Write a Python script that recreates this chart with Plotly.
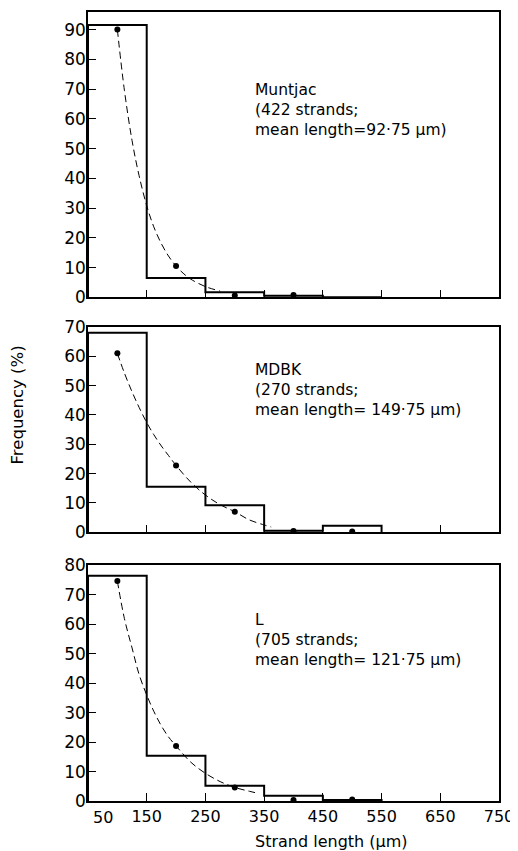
import plotly.graph_objects as go

# ---- data ----
bin_edges = [50, 150, 250, 350, 450, 550]
muntjac_freq = [91.5, 6.5, 1.7, 0.5, 0.0]
mdbk_freq = [68.0, 15.5, 9.2, 0.5, 2.2]
l_freq = [76.5, 15.4, 5.2, 1.8, 0.3]

muntjac_pts_x = [100, 200, 300, 400]
muntjac_pts_y = [90.0, 10.5, 0.6, 0.8]
mdbk_pts_x = [100, 200, 300, 400, 500]
mdbk_pts_y = [61.0, 22.8, 7.0, 0.4, 0.3]
l_pts_x = [100, 200, 300, 400, 500]
l_pts_y = [74.7, 18.7, 4.6, 0.3, 0.5]

muntjac_curve_x = [100, 112, 125, 137, 150, 162, 175, 187, 200, 212, 225, 250, 275]
muntjac_curve_y = [90.0, 69.6, 52.7, 40.9, 30.8, 23.7, 18.0, 13.9, 10.5, 8.1, 6.1, 3.6, 2.1]
mdbk_curve_x = [100, 112, 125, 137, 150, 162, 175, 187, 200, 225, 250, 275, 300, 325, 350, 362]
mdbk_curve_y = [61.0, 54.3, 47.9, 42.6, 37.4, 33.3, 29.4, 26.2, 22.8, 17.1, 12.7, 9.4, 7.0, 4.2, 2.5, 1.8]
l_curve_x = [100, 112, 125, 137, 150, 162, 175, 187, 200, 225, 250, 275, 300, 325, 340]
l_curve_y = [74.7, 62.0, 52.0, 43.0, 36.0, 30.5, 25.5, 21.8, 18.7, 13.2, 9.4, 6.6, 4.6, 3.3, 2.6]

x_ticks = [50, 150, 250, 350, 450, 550, 650, 750]
x_tick_labels = ["", "150", "250", "350", "450", "550", "650", "750"]  # "50" drawn offset, as in the figure

panels = [
    dict(freq=muntjac_freq, px=muntjac_pts_x, py=muntjac_pts_y,
         cx=muntjac_curve_x, cy=muntjac_curve_y, ymax=95.9, yticks=list(range(0, 100, 10)),
         domain=[0.6384, 1.0],
         label="Muntjac<br>(422 strands;<br>mean length=92·75 μm)", ly=0.8763),
    dict(freq=mdbk_freq, px=mdbk_pts_x, py=mdbk_pts_y,
         cx=mdbk_curve_x, cy=mdbk_curve_y, ymax=70, yticks=list(range(0, 80, 10)),
         domain=[0.3406, 0.6008],
         label="MDBK<br>(270 strands;<br>mean length= 149·75 μm)", ly=0.5209),
    dict(freq=l_freq, px=l_pts_x, py=l_pts_y,
         cx=l_curve_x, cy=l_curve_y, ymax=80, yticks=list(range(0, 90, 10)),
         domain=[0.0, 0.2985],
         label="L<br>(705 strands;<br>mean length= 121·75 μm)", ly=0.2041),
]

FONT = "DejaVu Sans"
fig = go.Figure()
annotations = []
layout = {}

for i, p in enumerate(panels, start=1):
    xa = "x" if i == 1 else f"x{i}"
    ya = "y" if i == 1 else f"y{i}"
    step_x = [bin_edges[0]] + bin_edges
    step_y = [0] + p["freq"] + [0]
    fig.add_trace(go.Scatter(x=step_x, y=step_y, mode="lines", line_shape="hv",
                             line=dict(color="black", width=2), xaxis=xa, yaxis=ya,
                             showlegend=False, hoverinfo="skip"))
    fig.add_trace(go.Scatter(x=p["cx"], y=p["cy"], mode="lines", line_shape="spline",
                             line=dict(color="black", width=1, dash="7px,4px"),
                             xaxis=xa, yaxis=ya, showlegend=False))
    fig.add_trace(go.Scatter(x=p["px"], y=p["py"], mode="markers",
                             marker=dict(color="black", size=6), xaxis=xa, yaxis=ya,
                             showlegend=False))
    xkey = "xaxis" if i == 1 else f"xaxis{i}"
    ykey = "yaxis" if i == 1 else f"yaxis{i}"
    layout[xkey] = dict(range=[50, 750], domain=[0, 1], anchor=ya,
                        tickvals=x_ticks, ticktext=x_tick_labels,
                        showticklabels=(i == 3), automargin=False,
                        ticks="inside", ticklen=8, tickwidth=1.2, tickcolor="black",
                        showline=True, mirror=True, linecolor="black", linewidth=1.5,
                        showgrid=False, zeroline=False,
                        tickfont=dict(family=FONT, size=16, color="black"),
                        ticklabelstandoff=0)
    layout[ykey] = dict(range=[0, p["ymax"]], domain=p["domain"], anchor=xa,
                        tickvals=p["yticks"], automargin=False,
                        ticks="inside", ticklen=8, tickwidth=1.2, tickcolor="black",
                        showline=True, mirror=True, linecolor="black", linewidth=1.5,
                        showgrid=False, zeroline=False,
                        tickfont=dict(family=FONT, size=17, color="black"),
                        ticklabelstandoff=-3)
    annotations.append(dict(text=p["label"], x=0.4015, y=p["ly"], xref="paper", yref="paper",
                            xanchor="left", yanchor="middle", align="left", showarrow=False,
                            font=dict(family=FONT, size=15.5, color="black")))

# the "50" tick label sits to the right of its tick in the original
annotations.append(dict(text=str(x_ticks[0]), x=x_ticks[0], y=0, xref="x3", yref="y3",
                        xanchor="center", yanchor="middle", xshift=15, yshift=-16,
                        showarrow=False, font=dict(family=FONT, size=16, color="black")))
annotations.append(dict(text="Frequency (%)", x=-0.1715, y=0.502, xref="paper", yref="paper",
                        textangle=-90, showarrow=False, xanchor="center", yanchor="middle",
                        font=dict(family=FONT, size=16.5, color="black")))
annotations.append(dict(text="Strand length (μm)", x=0.593, y=-0.0507, xref="paper", yref="paper",
                        showarrow=False, xanchor="center", yanchor="middle",
                        font=dict(family=FONT, size=16, color="black")))

# page body adds an 8px offset; margins compensate so the plot sits where the reference has it
fig.update_layout(width=518, height=851, margin=dict(l=80, r=27, t=4, b=58, autoexpand=False),
                  plot_bgcolor="white", paper_bgcolor="white",
                  annotations=annotations, **layout)
fig.write_html("out.html")
